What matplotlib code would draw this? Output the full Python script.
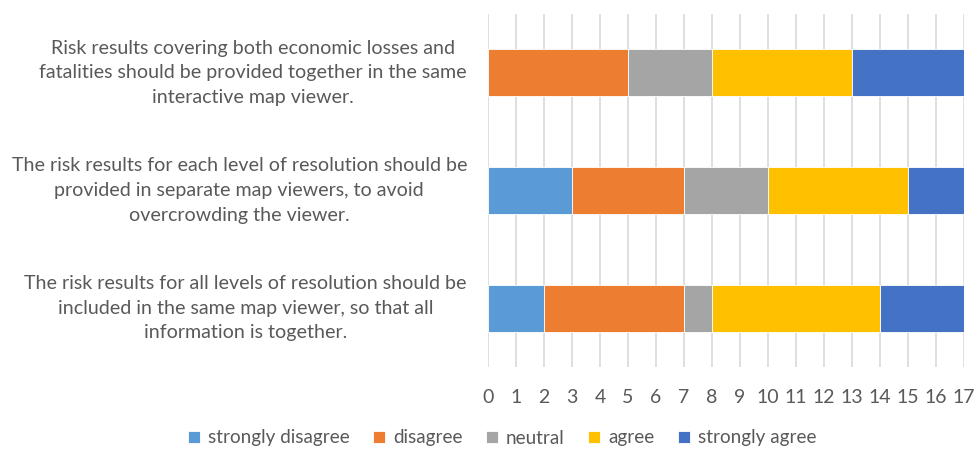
import matplotlib
matplotlib.use("Agg")
import matplotlib.pyplot as plt
import numpy as np

plt.rcParams['font.family'] = ['Lato', 'DejaVu Sans']

categories = [
    "The risk results for all levels of resolution should be\nincluded in the same map viewer, so that all\ninformation is together.",
    "The risk results for each level of resolution should be\nprovided in separate map viewers, to avoid\novercrowding the viewer.",
    "Risk results covering both economic losses and\nfatalities should be provided together in the same\ninteractive map viewer.",
]
series_names = ["strongly disagree", "disagree", "neutral", "agree", "strongly agree"]
strongly_disagree = [2, 3, 0]
disagree = [5, 4, 5]
neutral = [1, 3, 3]
agree = [6, 5, 5]
strongly_agree = [3, 2, 4]
series = [strongly_disagree, disagree, neutral, agree, strongly_agree]
colors = ["#5B9BD5", "#ED7D31", "#A5A5A5", "#FFC000", "#4472C4"]
xticks = list(range(0, 18))

fig = plt.figure(figsize=(9.76, 4.53), dpi=100)
ax = fig.add_axes([488/976, 1 - 367/453, (964-488)/976, (367-14)/453])

y = np.arange(len(categories))
left = np.zeros(len(categories))
for name, vals, c in zip(series_names, series, colors):
    vals = np.array(vals, dtype=float)
    ax.barh(y, vals, left=left, height=0.4, color=c, label=name,
            edgecolor='white', linewidth=0.6, zorder=3)
    left += vals

ax.set_xlim(0, 17)
ax.set_ylim(-0.5, 2.5)
ax.set_xticks(xticks)
ax.xaxis.grid(True, color='#D9D9D9', linewidth=1.2, zorder=0)
ax.set_axisbelow(True)
for s in ax.spines.values():
    s.set_visible(False)
ax.tick_params(axis='x', length=0, pad=16, labelsize=14, labelcolor='#595959')
ax.set_yticks([])

for yi, txt in zip(y, categories):
    yfig = ax.transData.transform((0, yi))[1] / fig.bbox.height
    fig.text(467/976, yfig, txt, ha='right', va='center', fontsize=14.1,
             color='#595959', linespacing=1.55, multialignment='center')

handles, labels = ax.get_legend_handles_labels()
fig.legend(handles, labels, loc='center', bbox_to_anchor=(502/976, 1 - 438/453),
           ncol=5, frameon=False, fontsize=13.6, labelcolor='#595959',
           handlelength=0.65, handleheight=0.65, handletextpad=0.4, columnspacing=1.25)

fig.savefig("out.png", dpi=100)
